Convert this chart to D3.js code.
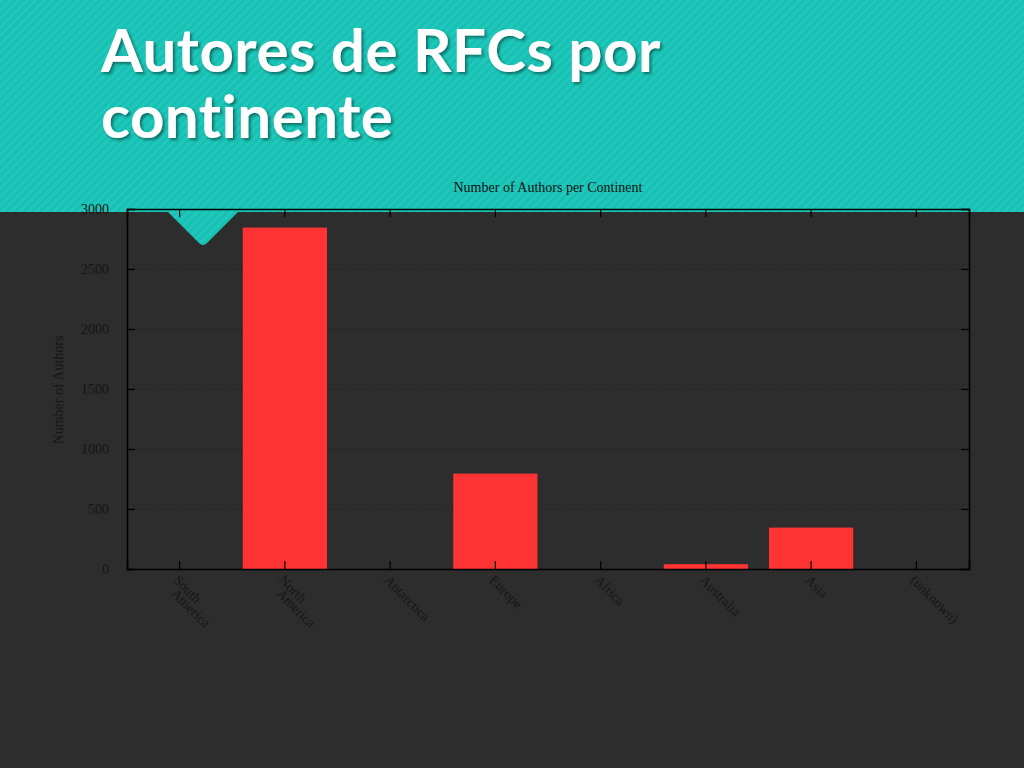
<!DOCTYPE html>
<html><head><meta charset="utf-8">
<script src="https://cdn.jsdelivr.net/npm/d3@7"></script>
<style>
html,body{margin:0;padding:0;background:#2d2d2d;}
svg{display:block;}
</style></head>
<body>
<svg id="chart" width="1024" height="768"></svg>
<script>
const categories = ["South\nAmerica","North\nAmerica","Antarctica","Europe","Africa","Australia","Asia","(unknown)"];
const authors = [0, 2845, 0, 795, 0, 40, 345, 0];
const yTicks = [0, 500, 1000, 1500, 2000, 2500, 3000];
const titleLines = ["Autores de RFCs por", "continente"];
const chartTitle = "Number of Authors per Continent";
const yLabel = "Number of Authors";

const svg = d3.select("#chart");
const W = 1024, H = 768;
const defs = svg.append("defs");
const pat = defs.append("pattern").attr("id","stripes").attr("patternUnits","userSpaceOnUse")
  .attr("width",6).attr("height",6).attr("patternTransform","rotate(45)");
pat.append("rect").attr("width",6).attr("height",6).attr("fill","#17c0b2");
pat.append("rect").attr("width",3).attr("height",6).attr("fill","#1fc8ba");
const sh = defs.append("filter").attr("id","shadow").attr("x","-10%").attr("y","-10%").attr("width","120%").attr("height","130%");
sh.append("feDropShadow").attr("dx",2).attr("dy",2).attr("stdDeviation",1.5).attr("flood-color","#000").attr("flood-opacity",0.45);

svg.append("rect").attr("width",W).attr("height",H).attr("fill","#2d2d2d");
svg.append("rect").attr("width",W).attr("height",212).attr("fill","url(#stripes)");
svg.append("path").attr("d","M167,211 L239,211 L207,243 Q203,247 199,243 Z").attr("fill","url(#stripes)");

svg.append("g").selectAll("text").data(titleLines).join("text")
  .attr("x",101).attr("y",(d,i)=>72+i*66)
  .attr("fill","#fff").attr("font-family","Lato, 'Open Sans', sans-serif").attr("font-weight","bold")
  .attr("font-size",60).attr("letter-spacing",0.5).attr("filter","url(#shadow)").text(d=>d);

const m = {l:127, r:969, t:209, b:569};
const x = d3.scaleBand().domain(d3.range(categories.length)).range([m.l,m.r]).padding(0);
const y = d3.scaleLinear().domain([0,3000]).range([m.b,m.t]);
const ink = "#161616";
const serif = "'Liberation Serif','DejaVu Serif',serif";

// gridlines
svg.append("g").selectAll("line").data(yTicks.slice(1,-1)).join("line")
  .attr("x1",m.l).attr("x2",m.r).attr("y1",d=>y(d)).attr("y2",d=>y(d))
  .attr("stroke","#1a1a1a").attr("stroke-width",1).attr("stroke-dasharray","1,2");

// bars
const bw = x.bandwidth()*0.8;
svg.append("g").selectAll("rect").data(authors).join("rect")
  .attr("x",(d,i)=>x(i)+x.bandwidth()/2-bw/2).attr("width",bw)
  .attr("y",d=>y(d)).attr("height",d=>y(0)-y(d)).attr("fill","#ff3333");

// axes
const yAxisL = d3.axisLeft(y).tickValues(yTicks).tickSize(-8).tickPadding(16).tickFormat(d3.format("d"));
const gl = svg.append("g").attr("transform",`translate(${m.l},0)`).call(yAxisL);
const yAxisR = d3.axisRight(y).tickValues(yTicks).tickSize(-8).tickFormat("");
const gr = svg.append("g").attr("transform",`translate(${m.r},0)`).call(yAxisR);
const xAxisB = d3.axisBottom(x).tickSize(-8).tickFormat("");
const gb = svg.append("g").attr("transform",`translate(0,${m.b})`).call(xAxisB);
const xAxisT = d3.axisTop(x).tickSize(-8).tickFormat("");
const gt = svg.append("g").attr("transform",`translate(0,${m.t})`).call(xAxisT);
[gl,gr,gb,gt].forEach(g=>{
  g.select(".domain").attr("stroke","#000").attr("stroke-width",1.5);
  g.selectAll(".tick line").attr("stroke","#000").attr("stroke-width",1.2);
  g.selectAll("text").attr("fill",ink).attr("font-family",serif).attr("font-size",14);
});
gl.selectAll("text").attr("text-anchor","end").attr("dx",-2);

// x labels
const xl = svg.append("g").selectAll("text").data(categories).join("text")
  .attr("transform",(d,i)=>`translate(${x(i)+x.bandwidth()/2-7},${m.b+12}) rotate(45)`)
  .attr("fill",ink).attr("font-family",serif).attr("font-size",14);
xl.each(function(d){
  const t = d3.select(this);
  d.split("\n").forEach((s,k)=>t.append("tspan").attr("x",k*8).attr("dy",k?11:0).text(s));
});

svg.append("text").attr("x",548).attr("y",192).attr("text-anchor","middle")
  .attr("fill","#111").attr("font-family",serif).attr("font-size",14).text(chartTitle);
svg.append("text").attr("transform","translate(63,390) rotate(-90)").attr("text-anchor","middle")
  .attr("fill",ink).attr("font-family",serif).attr("font-size",14).text(yLabel);
</script>
</body></html>
